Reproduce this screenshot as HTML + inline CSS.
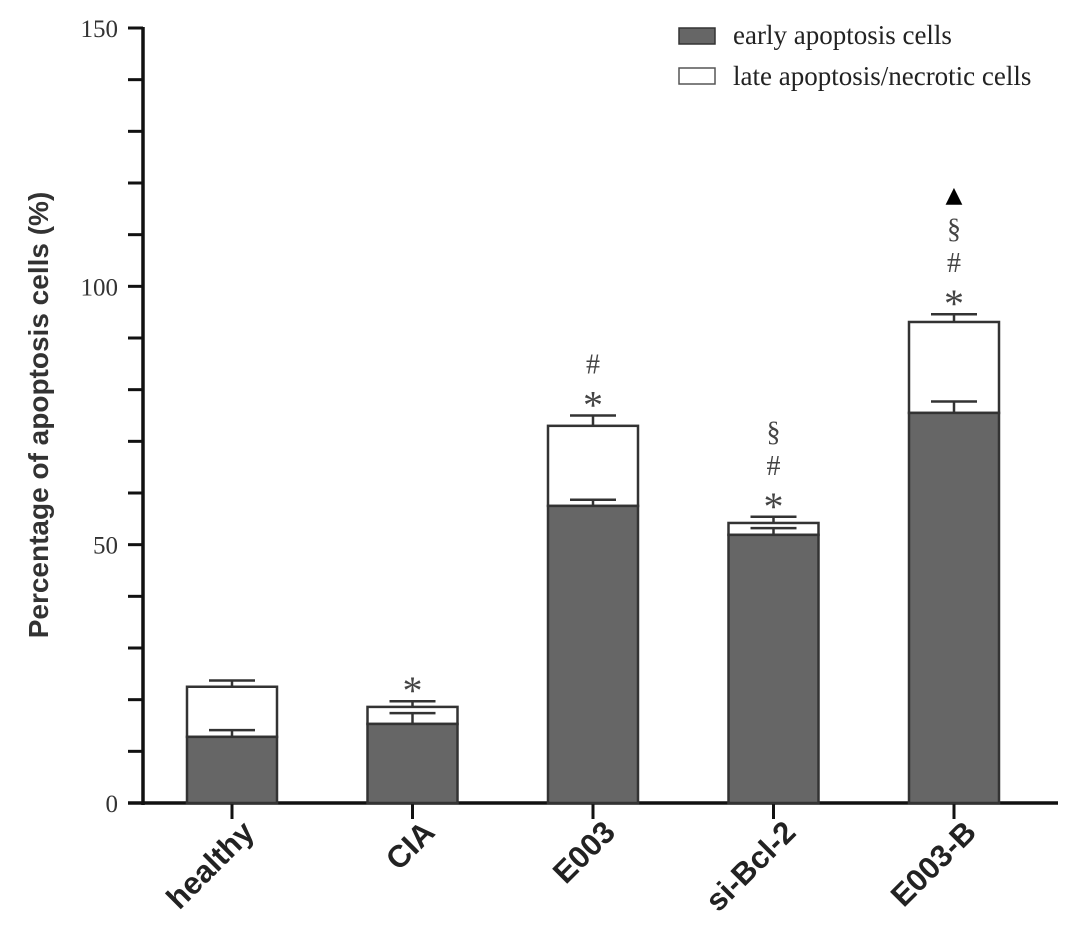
<!DOCTYPE html>
<html><head><meta charset="utf-8"><style>
html,body{margin:0;padding:0;background:#fff;}
svg{display:block;}
</style></head><body>
<svg id="chart" width="1069" height="948" viewBox="0 0 1069 948" xmlns="http://www.w3.org/2000/svg">
<g id="axes"></g><g id="bars"></g><g id="labels"></g>
<g>
<rect x="679" y="28" width="36" height="16" fill="#666" stroke="#333" stroke-width="1.5"/>
<text x="733" y="44" font-family="Liberation Serif, serif" font-size="27" fill="#222">early apoptosis cells</text>
<rect x="679" y="68" width="36" height="16" fill="#fff" stroke="#555" stroke-width="1.5"/>
<text x="733" y="85" font-family="Liberation Serif, serif" font-size="27" fill="#222">late apoptosis/necrotic cells</text>
</g>
<text transform="translate(48,415) rotate(-90)" text-anchor="middle" font-family="Liberation Sans, sans-serif" font-weight="bold" font-size="28" fill="#333">Percentage of apoptosis cells  (%)</text>
</svg>
<script>
const categories=["healthy","CIA","E003","si-Bcl-2","E003-B"];
const earlyValues=[12.8,15.3,57.5,51.9,75.5];
const earlyErrors=[1.3,2.1,1.2,1.3,2.2];
const totalValues=[22.5,18.6,73.0,54.2,93.1];
const totalErrors=[1.2,1.1,2.0,1.2,1.5];
const significance=[[],["*"],["*","#"],["*","#","§"],["*","#","§","▲"]];
const yTicks=[0,50,100,150];

const NS="http://www.w3.org/2000/svg";
const y=v=>803-v*(775/150);
const xc=i=>232+i*180.5;
const BW=90;
function mk(tag,attrs,parent,txt){const e=document.createElementNS(NS,tag);for(const k in attrs)e.setAttribute(k,attrs[k]);if(txt!==undefined)e.textContent=txt;parent.appendChild(e);return e;}
const axes=document.getElementById('axes'),bars=document.getElementById('bars'),labels=document.getElementById('labels');
let e;
e=mk('line',{x1:143,y1:y(150)-1,x2:143,y2:805,stroke:'#111','stroke-width':3.5},axes);


e=mk('line',{x1:128,y1:803,x2:1058,y2:803,stroke:'#111','stroke-width':3.5},axes);


for(let v=0;v<=150;v+=10){
  e=mk('line',{x1:128,y1:y(v),x2:143,y2:y(v),stroke:'#111','stroke-width':3},axes);
  
  
}
yTicks.forEach(v=>{
  e=mk('text',{x:118,y:y(v)+9,'text-anchor':'end','font-family':'Liberation Serif, serif','font-size':25,fill:'#333'},axes,String(v));
  
  
});
categories.forEach((c,i)=>{
  const x=xc(i);
  e=mk('line',{x1:x,y1:803,x2:x,y2:819,stroke:'#111','stroke-width':3},axes);
  
  
  e=mk('text',{transform:`translate(${x+24},${834}) rotate(-45)`,'text-anchor':'end','font-family':'Liberation Sans, sans-serif','font-weight':'bold','font-size':31,fill:'#222'},axes,c);
  
  
  const drawErr=(v,er,nm)=>{
    e=mk('line',{x1:x,y1:y(v),x2:x,y2:y(v+er),stroke:'#333','stroke-width':2.5},bars);
    
    
    e=mk('line',{x1:x-23,y1:y(v+er),x2:x+23,y2:y(v+er),stroke:'#333','stroke-width':2.5},bars);
    
    
  };
  e=mk('rect',{x:x-BW/2,y:y(totalValues[i]),width:BW,height:y(earlyValues[i])-y(totalValues[i]),fill:'#fff',stroke:'#333','stroke-width':2.5},bars);
  
  
  e=mk('rect',{x:x-BW/2,y:y(earlyValues[i]),width:BW,height:803-y(earlyValues[i]),fill:'#666',stroke:'#333','stroke-width':2.5},bars);
  
  
  drawErr(earlyValues[i],earlyErrors[i],'early-'+c);
  drawErr(totalValues[i],totalErrors[i],'total-'+c);
  const top=y(totalValues[i]+totalErrors[i]);
  significance[i].forEach((s,k)=>{
    const cy=top-18-k*34;
    let fs=28,off=10,ff='Liberation Serif, serif',fill='#444';
    if(s==="*"){fs=40;off=21;}
    if(s==="▲"){fs=22;off=8;ff='DejaVu Sans, sans-serif';fill='#000';}
    e=mk('text',{x:x,y:cy+off,'text-anchor':'middle','font-family':ff,'font-size':fs,fill:fill},labels,s);
    
    
  });
});
</script>
</body></html>
